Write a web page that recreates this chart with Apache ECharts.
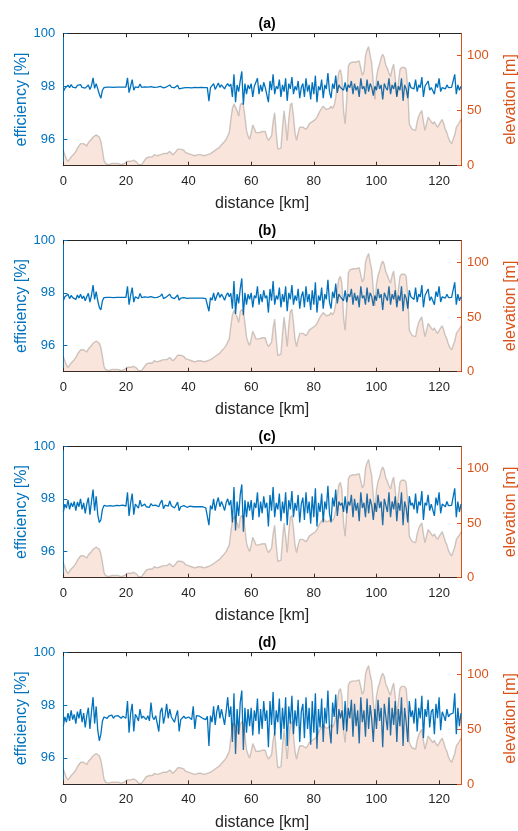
<!DOCTYPE html>
<html>
<head>
<meta charset="utf-8">
<script src="https://cdn.jsdelivr.net/npm/echarts@6/dist/echarts.min.js"></script>
<style>
html,body{margin:0;padding:0;background:#fff;}
#chart{width:518px;height:831px;}
</style>
</head>
<body>
<div id="chart"></div>
<script>
// ---- data (0.5 km sampling, 0 .. 127 km) ----
const panelTitles = ['(a)', '(b)', '(c)', '(d)'];
const xTicks = [0, 20, 40, 60, 80, 100, 120];
const effTicks = [96, 98, 100];
const elevTicks = [0, 50, 100];

const elevationM = [
14,10,6,4,5,8,9,11,13,16, 18,20,21,20,19,18,21,22,24,26,
27,28,27,26,22,14,5,2,2,1, 2,2,1,2,3,2,2,1,2,2,
3,4,3,4,5,5,4,3,1,0, 1,2,5,7,6,8,9,8,10,11,
9,8,10,9,11,12,11,12,13,12, 10,11,13,15,16,15,14,14,12,11,
11,10,10,10,9,10,10,10,10,9, 9,10,10,10,11,12,13,14,15,16,
17,19,20,22,24,27,30,42,52,56, 55,50,45,55,57,55,45,32,27,24,
30,37,34,30,31,30,31,31,32,31, 26,23,25,27,40,48,30,15,15,16,
35,50,38,23,42,55,57,45,30,23, 30,35,36,35,34,33,35,38,39,40,
41,42,44,47,50,52,54,53,51,51, 52,54,52,55,62,75,85,87,80,50,
38,60,90,93,93,94,95,94,95,95, 94,82,85,100,105,108,100,93,75,60,
80,88,92,98,101,98,91,88,84,81, 88,92,80,63,75,87,89,90,89,87,
70,38,35,33,33,32,40,45,48,50, 40,32,38,44,45,40,38,40,37,35,
36,40,42,38,33,30,25,22,20,21, 28,35,37,39,42
];

const efficiencyA = [
97.80,97.92,97.97,98.04,97.95,98.06,97.97,98.00,97.94,98.03,
97.98,98.06,97.96,98.02,97.93,98.00,98.05,97.88,98.02,98.32,
97.92,98.10,97.90,97.70,97.55,97.85,97.95,97.98,97.97,97.96,
97.97,97.98,97.96,97.97,97.97,97.98,97.97,97.96,97.97,97.97,
97.97,98.32,97.76,98.00,98.25,97.85,97.98,97.97,97.95,98.08,
97.96,97.97,97.98,97.96,97.97,97.97,97.99,97.97,97.96,97.97,
97.97,97.96,98.00,98.06,97.94,97.97,97.98,97.97,98.05,97.97,
97.96,97.94,97.97,98.04,97.90,97.95,97.93,97.96,97.95,97.94,
97.95,97.95,97.94,97.95,97.96,97.95,97.95,97.95,97.96,97.95,
97.95,97.94,97.95,97.44,97.95,97.90,98.10,97.88,98.00,98.12,
97.96,98.05,97.98,97.90,98.02,98.10,98.00,98.08,97.60,98.45,
97.40,98.05,97.80,98.20,98.56,97.30,98.10,97.70,98.05,97.90,
98.10,97.60,98.00,97.95,98.30,97.70,98.05,97.80,98.15,97.95,
98.00,97.40,98.20,97.85,98.45,97.70,98.00,97.90,98.25,97.60,
98.05,97.80,98.30,97.45,98.10,97.90,98.35,97.70,98.00,97.85,
98.20,97.55,97.95,98.10,97.60,98.30,97.80,98.05,97.50,98.15,
97.70,98.40,97.40,98.00,97.85,98.25,97.55,98.05,97.90,98.50,
97.80,97.55,98.10,97.90,98.40,97.75,98.05,97.95,98.00,97.85,
98.15,97.80,98.05,97.95,98.20,97.70,98.10,97.85,98.00,97.60,
98.30,97.90,98.00,97.70,98.25,97.80,98.10,97.95,97.65,98.00,
97.85,98.20,97.90,98.05,97.50,98.10,97.95,97.85,98.30,97.70,
98.05,97.90,98.15,97.60,98.00,97.85,98.30,97.45,98.05,97.90,
97.55,98.15,97.95,98.00,97.90,98.25,97.80,98.05,97.95,98.35,
97.60,98.00,97.95,98.20,97.85,97.95,98.00,97.70,98.10,97.95,
98.30,97.80,97.95,98.00,97.90,98.05,97.95,97.98,97.96,98.00,
98.45,97.70,98.05,97.85,98.00
];

const efficiencyB = [
97.70,97.85,97.80,97.95,97.78,97.90,97.82,97.86,97.75,97.92,
97.80,97.95,97.78,97.88,97.70,97.85,97.98,97.65,97.90,98.30,
97.75,98.05,97.70,97.45,97.35,97.70,97.82,97.84,97.83,97.82,
97.83,97.84,97.82,97.83,97.83,97.84,97.83,97.82,97.83,97.83,
97.83,98.25,97.55,97.90,98.20,97.65,97.85,97.83,97.78,97.98,
97.82,97.83,97.85,97.82,97.83,97.80,97.86,97.83,97.82,97.83,
97.83,97.82,97.88,97.96,97.78,97.83,97.85,97.82,97.95,97.83,
97.82,97.78,97.83,97.92,97.72,97.80,97.78,97.82,97.80,97.79,
97.80,97.80,97.79,97.80,97.82,97.80,97.80,97.80,97.82,97.80,
97.80,97.78,97.80,97.30,97.82,97.72,98.00,97.70,97.88,98.02,
97.82,97.95,97.85,97.72,97.90,98.00,97.85,97.98,97.40,98.45,
97.20,97.95,97.60,98.15,98.55,97.15,98.00,97.55,97.95,97.75,
98.00,97.45,97.90,97.80,98.25,97.55,97.95,97.65,98.10,97.80,
97.90,97.25,98.15,97.70,98.45,97.55,97.90,97.75,98.20,97.45,
97.95,97.65,98.25,97.30,98.00,97.75,98.30,97.55,97.90,97.70,
98.15,97.40,97.85,98.05,97.45,98.25,97.65,97.95,97.35,98.10,
97.55,98.40,97.25,97.90,97.70,98.20,97.40,97.95,97.75,98.50,
97.65,97.40,98.05,97.80,98.35,97.60,97.95,97.85,97.90,97.70,
98.10,97.65,97.95,97.85,98.15,97.55,98.00,97.70,97.90,97.45,
98.25,97.80,97.90,97.55,98.20,97.65,98.00,97.85,97.50,97.90,
97.70,98.15,97.80,97.95,97.35,98.00,97.85,97.70,98.25,97.55,
97.95,97.75,98.10,97.45,97.90,97.70,98.25,97.30,97.95,97.80,
97.40,98.10,97.85,97.90,97.75,98.20,97.65,97.95,97.85,98.30,
97.45,97.90,97.85,98.15,97.70,97.85,97.90,97.55,98.05,97.85,
98.25,97.65,97.85,97.90,97.80,97.95,97.82,97.85,97.83,97.88,
98.40,97.55,97.95,97.70,97.85
];

const efficiencyC = [
97.50,97.80,97.65,97.95,97.60,97.85,97.70,97.90,97.55,97.88,
97.70,98.00,97.60,97.85,97.45,97.80,98.05,97.40,97.90,98.35,
97.55,98.10,97.40,97.10,97.20,97.60,97.75,97.78,97.72,97.76,
97.74,97.80,97.72,97.76,97.75,97.78,97.74,97.72,97.76,97.75,
97.72,98.25,97.35,97.85,98.20,97.40,97.80,97.74,97.65,97.95,
97.72,97.76,97.80,97.70,97.75,97.68,97.82,97.74,97.70,97.76,
97.74,97.70,97.85,97.95,97.62,97.76,97.80,97.72,97.92,97.74,
97.70,97.65,97.76,97.88,97.55,97.70,97.66,97.74,97.70,97.68,
97.70,97.72,97.68,97.70,97.74,97.70,97.72,97.70,97.74,97.70,
97.70,97.66,97.72,97.00,97.75,97.60,98.00,97.55,97.85,98.05,
97.70,97.90,97.75,97.55,97.85,98.00,97.75,97.95,97.10,98.45,
96.80,97.90,97.35,98.15,98.55,96.75,97.95,97.30,97.90,97.55,
97.95,97.20,97.85,97.65,98.25,97.30,97.90,97.45,98.10,97.65,
97.85,96.95,98.15,97.55,98.45,97.30,97.85,97.60,98.20,97.15,
97.90,97.45,98.25,97.00,97.95,97.60,98.30,97.30,97.85,97.55,
98.15,97.10,97.80,98.05,97.20,98.25,97.45,97.90,97.05,98.10,
97.30,98.40,96.95,97.85,97.50,98.20,97.10,97.90,97.60,98.50,
97.45,97.10,98.05,97.70,98.35,97.35,97.90,97.75,97.85,97.50,
98.10,97.45,97.90,97.75,98.15,97.30,98.00,97.55,97.85,97.15,
98.25,97.65,97.85,97.30,98.20,97.45,98.00,97.75,97.20,97.85,
97.50,98.15,97.65,97.90,97.00,98.00,97.75,97.50,98.25,97.30,
97.90,97.60,98.10,97.15,97.85,97.55,98.25,97.00,97.90,97.65,
97.10,98.10,97.75,97.85,97.60,98.20,97.45,97.90,97.75,98.30,
97.20,97.85,97.75,98.15,97.55,97.80,97.85,97.35,98.05,97.75,
98.25,97.45,97.80,97.85,97.70,97.90,97.74,97.78,97.75,97.80,
98.40,97.30,97.90,97.50,97.80
];

const efficiencyD = [
97.20,97.55,97.35,97.70,97.40,97.80,97.45,97.65,97.30,97.75,
97.50,97.85,97.35,97.70,97.15,97.60,97.90,97.10,97.75,98.30,
97.30,97.95,97.05,96.65,96.90,97.40,97.55,97.60,97.50,97.58,
97.55,97.62,97.50,97.58,97.56,97.60,97.55,97.50,97.58,97.56,
97.50,98.15,96.95,97.70,98.05,97.00,97.65,97.55,97.40,97.85,
97.50,97.58,97.65,97.45,97.60,97.40,98.10,97.55,97.45,97.60,
97.55,97.00,97.75,97.90,97.30,97.60,98.05,97.50,97.85,97.55,
97.50,97.35,97.60,97.80,97.00,97.45,97.40,97.58,97.50,97.45,
97.55,97.60,97.45,97.95,97.10,97.60,97.55,97.58,97.65,97.50,
97.55,97.45,97.58,96.45,97.60,97.35,97.95,97.25,97.75,98.00,
97.50,97.85,97.55,97.25,97.75,98.30,97.55,97.95,96.60,98.45,
96.15,97.85,96.90,98.10,98.55,96.30,97.90,96.95,97.85,97.20,
97.90,96.85,97.80,97.40,98.25,96.90,97.85,97.10,98.15,97.40,
97.80,96.40,98.15,97.25,98.50,96.85,97.80,97.35,98.25,96.70,
97.90,97.10,98.30,96.45,97.95,97.30,98.35,96.90,97.80,97.20,
98.20,96.60,97.75,98.05,96.75,98.30,97.10,97.90,96.50,98.15,
96.95,98.45,96.35,97.85,97.15,98.25,96.60,97.90,97.30,98.55,
97.10,96.55,98.10,97.55,98.40,96.90,97.85,97.50,97.80,97.05,
98.15,97.00,97.90,97.50,98.20,96.80,98.05,97.20,97.80,96.55,
98.30,97.35,97.80,96.80,98.25,97.10,98.00,97.45,96.60,97.85,
97.10,98.20,97.40,97.90,96.40,98.05,97.55,97.05,98.30,96.85,
97.90,97.25,98.15,96.60,97.85,97.20,98.30,96.45,97.90,97.35,
96.60,98.15,97.55,97.80,97.30,98.25,97.00,97.90,97.50,98.35,
96.75,97.85,97.55,98.20,97.15,97.75,97.85,96.90,98.05,97.50,
98.30,97.05,97.75,97.60,97.40,97.85,97.55,97.65,97.60,97.70,
98.45,96.90,97.90,97.20,97.70
];

const efficiencySeries = [efficiencyA, efficiencyB, efficiencyC, efficiencyD];
const distanceKm = elevationM.map((_, i) => i * 0.5);

// ---- layout / style ----
const FONT = 'Liberation Sans, Arial, Helvetica, sans-serif';
const BLUE = '#0072BD';
const ORANGE = '#D95319';
const DARK = '#262626';
const gridTops = [33.3, 240.3, 446.3, 652.3];
const gridHeights = [132.4, 131.4, 131.4, 132.0];
const gridLeft = 63.3;
const gridWidth = 397.7;

const grids = [], xAxes = [], yAxes = [], series = [], titles = [];
for (let p = 0; p < 4; p++) {
  grids.push({left: gridLeft, top: gridTops[p], width: gridWidth, height: gridHeights[p],
              containLabel: false, outerBoundsMode: 'none'});
  titles.push({
    text: panelTitles[p], left: gridLeft + gridWidth / 2, top: gridTops[p] - 21, textAlign: 'center',
    textStyle: {fontFamily: FONT, fontSize: 14, fontWeight: 'bold', color: '#000'}
  });
  xAxes.push({
    type: 'value', gridIndex: p, min: 0, max: 127, position: 'bottom',
    name: 'distance [km]', nameLocation: 'middle', nameGap: 30, nameMoveOverlap: false,
    nameTextStyle: {fontFamily: FONT, fontSize: 16, color: DARK},
    axisLine: {show: true, onZero: false, lineStyle: {color: DARK, width: 1}},
    axisTick: {show: true, inside: true, length: 4, customValues: xTicks, lineStyle: {color: DARK}},
    axisLabel: {show: true, margin: 9, customValues: xTicks, fontFamily: FONT, fontSize: 13, color: DARK},
    splitLine: {show: false}
  });
  xAxes.push({
    type: 'value', gridIndex: p, min: 0, max: 127, position: 'top',
    axisLine: {show: true, onZero: false, lineStyle: {color: DARK, width: 1}},
    axisTick: {show: true, inside: true, length: 4, customValues: xTicks, lineStyle: {color: DARK}},
    axisLabel: {show: false},
    splitLine: {show: false}
  });
  yAxes.push({
    type: 'value', gridIndex: p, min: 95, max: 100, position: 'left',
    name: 'efficiency [%]', nameLocation: 'middle', nameGap: 34, nameMoveOverlap: false,
    nameTextStyle: {fontFamily: FONT, fontSize: 16, color: BLUE},
    axisLine: {show: true, onZero: false, lineStyle: {color: BLUE, width: 1}},
    axisTick: {show: true, inside: true, length: 4, customValues: effTicks, lineStyle: {color: BLUE}},
    axisLabel: {show: true, margin: 8, customValues: effTicks, fontFamily: FONT, fontSize: 13, color: BLUE},
    splitLine: {show: false}
  });
  yAxes.push({
    type: 'value', gridIndex: p, min: 0, max: 120, position: 'right',
    name: 'elevation [m]', nameLocation: 'middle', nameGap: 42, nameMoveOverlap: false,
    nameTextStyle: {fontFamily: FONT, fontSize: 16, color: ORANGE},
    axisLine: {show: true, onZero: false, lineStyle: {color: ORANGE, width: 1}},
    axisTick: {show: true, inside: true, length: 4, customValues: elevTicks, lineStyle: {color: ORANGE}},
    axisLabel: {show: true, margin: 6, customValues: elevTicks, fontFamily: FONT, fontSize: 13, color: ORANGE},
    splitLine: {show: false}
  });
  const eff = efficiencySeries[p];
  series.push({
    type: 'line', xAxisIndex: 2 * p, yAxisIndex: 2 * p, z: 2,
    data: distanceKm.map((d, i) => [d, eff[i]]),
    showSymbol: false, symbol: 'none', animation: false,
    lineStyle: {color: BLUE, width: 1.3}
  });
  series.push({
    type: 'line', xAxisIndex: 2 * p, yAxisIndex: 2 * p + 1, z: 3,
    data: distanceKm.map((d, i) => [d, elevationM[i]]),
    showSymbol: false, symbol: 'none', animation: false,
    lineStyle: {color: 'rgba(40,30,25,0.22)', width: 1.4},
    areaStyle: {color: 'rgba(217,83,25,0.22)', origin: 'start'}
  });
}

const chart = echarts.init(document.getElementById('chart'), null, {renderer: 'canvas'});
chart.setOption({
  backgroundColor: '#fff',
  animation: false,
  title: titles,
  grid: grids,
  xAxis: xAxes,
  yAxis: yAxes,
  series: series
});
</script>
</body>
</html>
